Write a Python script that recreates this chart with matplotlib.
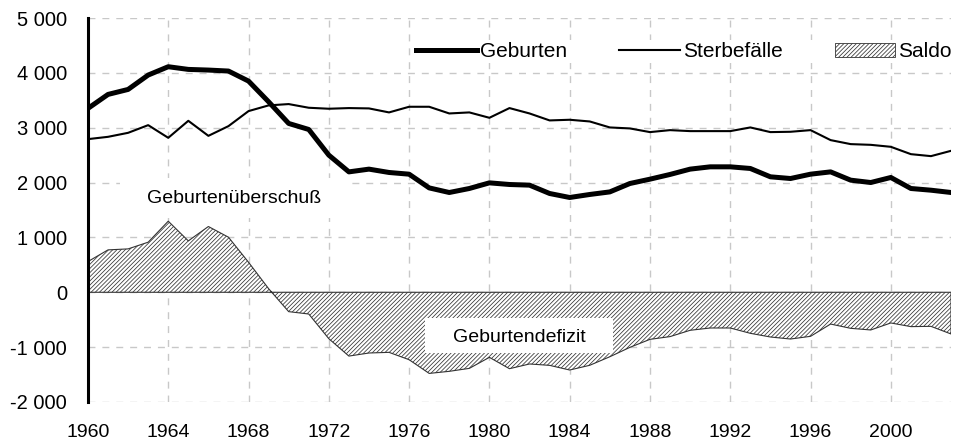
import numpy as np
import matplotlib.pyplot as plt
from matplotlib.patches import Rectangle, Patch
from matplotlib.lines import Line2D

plt.rcParams['font.family'] = ['Liberation Sans', 'DejaVu Sans']
plt.rcParams['hatch.linewidth'] = 0.55

# Daten (Tsd.)
jahre = np.arange(1960, 2004)
geburten = [3352, 3607, 3698, 3960, 4112, 4063, 4051, 4033, 3850, 3473,
            3078, 2968, 2500, 2195, 2245, 2184, 2153, 1903, 1819, 1892,
            1995, 1965, 1953, 1801, 1728, 1783, 1830, 1983, 2062, 2148,
            2245, 2287, 2287, 2257, 2105, 2074, 2153, 2195, 2044, 2001,
            2093, 1892, 1861, 1819]
sterbefaelle = [2792, 2834, 2907, 3047, 2816, 3126, 2852, 3029, 3303, 3407,
                3431, 3364, 3346, 3358, 3352, 3279, 3382, 3382, 3260, 3279,
                3181, 3358, 3260, 3133, 3145, 3114, 3005, 2987, 2920, 2956,
                2938, 2938, 2938, 3005, 2920, 2926, 2956, 2774, 2701, 2688,
                2652, 2518, 2482, 2579]
saldo = np.array(geburten) - np.array(sterbefaelle)

x_ticks = np.arange(1960, 2001, 4)
y_ticks = np.arange(-2000, 5001, 1000)
y_labels = ['-2 000', '-1 000', '0', '1 000', '2 000', '3 000', '4 000', '5 000']

schraffur = '////////'

fig = plt.figure(figsize=(9.54, 4.48), dpi=100)
ax = fig.add_axes([0.0922, 0.1027, 0.9047, 0.8571])

ax.fill_between(jahre, saldo, 0, facecolor='white', edgecolor='#333333',
                hatch=schraffur, linewidth=0.8, zorder=2)
ax.plot(jahre, sterbefaelle, color='black', lw=1.5, zorder=3)
ax.plot(jahre, geburten, color='black', lw=3.6, zorder=4)

# Beschriftungen im Diagramm
ax.add_patch(Rectangle((1961.6, 1350), 11.35, 730, facecolor='white',
                       edgecolor='none', zorder=1.5))
ax.text(1967.27, 1715, 'Geburtenüberschuß', fontsize=14, ha='center',
        va='center', zorder=5)
ax.add_patch(Rectangle((1976.79, -1113), 9.36, 639, facecolor='white',
                       edgecolor='none', zorder=2.5))
ax.text(1981.5, -821, 'Geburtendefizit', fontsize=14, ha='center',
        va='center', zorder=5)

ax.set_xlim(1960, 2003)
ax.set_ylim(-2000, 5000)
ax.set_xticks(x_ticks)
ax.set_yticks(y_ticks)
ax.set_yticklabels(y_labels)
ax.tick_params(axis='both', length=0, labelsize=14)
ax.tick_params(axis='y', labelsize=14.5)
ax.tick_params(axis='x', pad=15.5)
ax.tick_params(axis='y', pad=15)
ax.grid(True, color='#c8c8c8', linestyle=(0, (5, 5)), linewidth=1.0, zorder=0)
ax.set_axisbelow(True)

for s in ['top', 'right', 'bottom']:
    ax.spines[s].set_visible(False)
ax.spines['left'].set_linewidth(2.2)
ax.spines['left'].set_zorder(6)

handles = [Line2D([], [], color='black', lw=3.6),
           Line2D([], [], color='black', lw=1.5),
           Patch(facecolor='white', edgecolor='#333333', hatch=schraffur, lw=0.6)]
leg = ax.legend(handles, ['Geburten', 'Sterbefälle', 'Saldo'], ncol=3,
                loc='center right', bbox_to_anchor=(1.003, 0.912), fontsize=15,
                handlelength=2.9, handletextpad=0.15, columnspacing=2.5,
                borderpad=0.1, borderaxespad=0, frameon=True, fancybox=False,
                facecolor='white', edgecolor='none', framealpha=1)
leg.set_zorder(7)

fig.savefig('out.png', dpi=100)
